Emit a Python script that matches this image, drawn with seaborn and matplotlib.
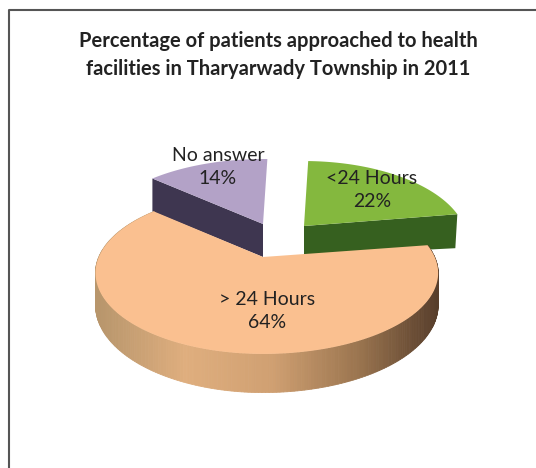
import numpy as np
import seaborn as sns
import matplotlib.pyplot as plt

categories = ['<24 Hours', 'No answer', '> 24 Hours']
values = [22, 14, 64]
title_lines = ['Percentage of patients approached to health',
               'facilities in Tharyarwady Township in 2011']

# looks of each slice, same order as categories
top_colors = ['#84B83E', '#B3A2C7', '#FAC090']
wall_colors = ['#36601F', '#3E3650', '#D9A878']
offsets = [(41, -31), (0, -33), (0, 0)]
scales_left = [0.96, 1.0, 0.985]
scales_right = [0.96, 1.0, 1.03]
depths = [30, 33, 31]
rim_depths = [34, 33, 31]
label_pos = [(372, 190), (218, 167), (267, 311)]

# projection of the tilted pie, in pixels
cx, cy = 263, 257
a, b, k = 166.7, 77.8, 0.1975
start_angle = 9

sns.set_theme(style='white')
plt.rcParams['font.family'] = ['Lato', 'DejaVu Sans']


def project(theta, left=1.0, right=1.0):
    u = np.cos(theta)
    u = np.where(u < 0, u * left, u * right)
    v = -np.sin(theta)
    d = 1 - k * v
    return a * u / d, b * v / d, d


fig, ax = plt.subplots(figsize=(5.36, 4.68), dpi=100)
fig.subplots_adjust(0, 0, 1, 1)
ax.set_xlim(0, 536)
ax.set_ylim(468, 0)
ax.axis('off')

# outline of the box, only left and top show up
ax.plot([8.5, 8.5, 536], [468, 10, 10], color='#555555', lw=1.5)

# orange wall goes from tan to dark brown
wall_grad = sns.blend_palette(['#B8966C', '#DFAE7E', '#D0A072', '#9C7650', '#553C2A'], 200)

angles = np.cumsum([0] + values) / 100 * 360 + start_angle
draw_order = [1, 0, 2]
for i in draw_order:
    t = np.radians(np.linspace(angles[i], angles[i + 1], 240))
    ox, oy = offsets[i]
    x, y, d = project(t, scales_left[i], scales_right[i])
    x = x + cx + ox
    y = y + cy + oy
    ax0, ay0 = cx + ox, cy + oy

    if i == 2:
        # curved outer wall, drawn as thin strips
        dep = depths[i] / d
        for j in range(len(t) - 1):
            c = wall_grad[int(np.clip((x[j] - 98) / 342 * 199, 0, 199))]
            ax.fill([x[j], x[j + 1], x[j + 1], x[j]],
                    [y[j], y[j + 1], y[j + 1] + dep[j + 1], y[j] + dep[j]],
                    color=c, lw=0.6)
    elif i == 0:
        # cut face of the green slice
        ax.fill([ax0, x[0], x[0] - 2, ax0], [ay0, y[0], y[0] + rim_depths[i], ay0 + depths[i]],
                color=wall_colors[i], lw=0)
    else:
        # cut face of the purple slice
        ax.fill([ax0, x[-1], x[-1], ax0], [ay0, y[-1], y[-1] + rim_depths[i], ay0 + depths[i]],
                color=wall_colors[i], lw=0)

    ax.fill(np.r_[ax0, x], np.r_[ay0, y], color=top_colors[i], lw=0)

for i, cat in enumerate(categories):
    ax.text(label_pos[i][0], label_pos[i][1], f'{cat}\n{values[i]}%', ha='center', va='center',
            fontsize=14, color='#222222', linespacing=1.44)

for y_txt, line in zip([41, 69], title_lines):
    ax.text(278, y_txt, line, ha='center', va='center', fontsize=14.5,
            fontweight='bold', color='#222222')

fig.savefig('out.png', dpi=100)
